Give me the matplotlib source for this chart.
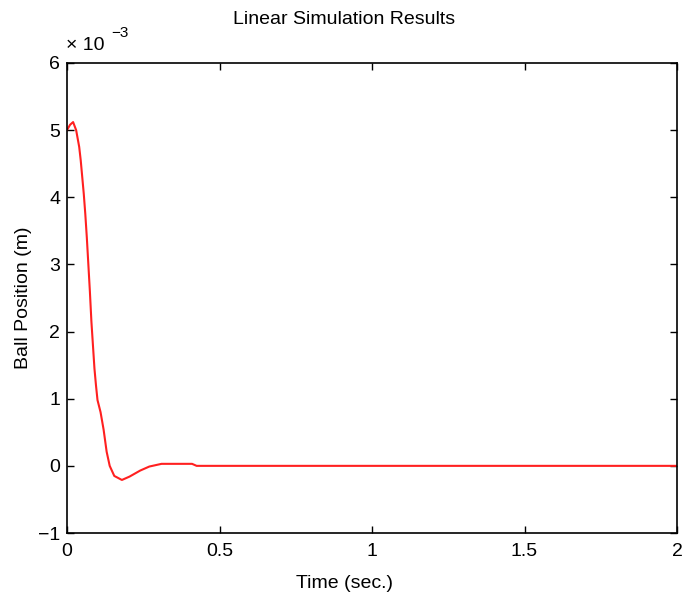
import matplotlib
matplotlib.use("Agg")
import matplotlib.pyplot as plt
import numpy as np

# Time (sec.) and ball position (in units of 1e-3 m)
time_s = [0.0, 0.01, 0.02, 0.03, 0.04, 0.045, 0.05, 0.055, 0.06, 0.065, 0.07,
          0.075, 0.08, 0.085, 0.09, 0.095, 0.10, 0.11, 0.12, 0.13, 0.14, 0.155,
          0.18, 0.205, 0.24, 0.27, 0.31, 0.41, 0.425, 2.0]
position_e3 = [5.0, 5.08, 5.12, 5.0, 4.75, 4.55, 4.3, 4.05, 3.75, 3.4, 3.0,
               2.6, 2.15, 1.8, 1.45, 1.2, 0.98, 0.8, 0.54, 0.21, 0.0, -0.15,
               -0.21, -0.16, -0.07, -0.01, 0.03, 0.03, 0.0, 0.0]
x_ticks = [0, 0.5, 1, 1.5, 2]
x_tick_labels = ["0", "0.5", "1", "1.5", "2"]
y_ticks = [-1, 0, 1, 2, 3, 4, 5, 6]

plt.rcParams['font.family'] = ['Liberation Sans', 'DejaVu Sans']

W, H = 682, 597
fig = plt.figure(figsize=(W / 100, H / 100), dpi=100)
ax = fig.add_axes([67 / W, 64 / H, 610 / W, 470 / H])

pos = np.array(position_e3) * 1e-3
ax.plot(time_s, pos, color='#ff2020', linewidth=1.5)

ax.set_xlim(0, 2)
ax.set_ylim(-1e-3, 6e-3)
ax.set_xticks(x_ticks)
ax.set_xticklabels(x_tick_labels)
ax.set_yticks(np.array(y_ticks) * 1e-3)
ax.set_yticklabels(["\u22121" if v == -1 else str(v) for v in y_ticks])

ax.tick_params(direction='in', length=5, width=1, top=True, right=True,
               labelsize=14, colors='black')
ax.tick_params(axis='x', pad=7)
ax.tick_params(axis='y', pad=5)
for s in ax.spines.values():
    s.set_linewidth(1.2)
    s.set_color('black')

# scale factor text
fig.text(66 / W, 1 - 45 / H, "\u00d7 10", fontsize=14, ha='left', va='center')
fig.text(111 / W, 1 - 33 / H, "\u22123", fontsize=11, ha='left', va='center')

fig.text(344 / W, 1 - 20 / H, "Linear Simulation Results", fontsize=14,
         ha='center', va='center')
fig.text(344 / W, 1 - 584 / H, "Time (sec.)", fontsize=14,
         ha='center', va='center')
fig.text(24 / W, 1 - 298 / H, "Ball Position (m)", fontsize=14,
         ha='center', va='center', rotation=90)

fig.savefig("out.png", dpi=100)
